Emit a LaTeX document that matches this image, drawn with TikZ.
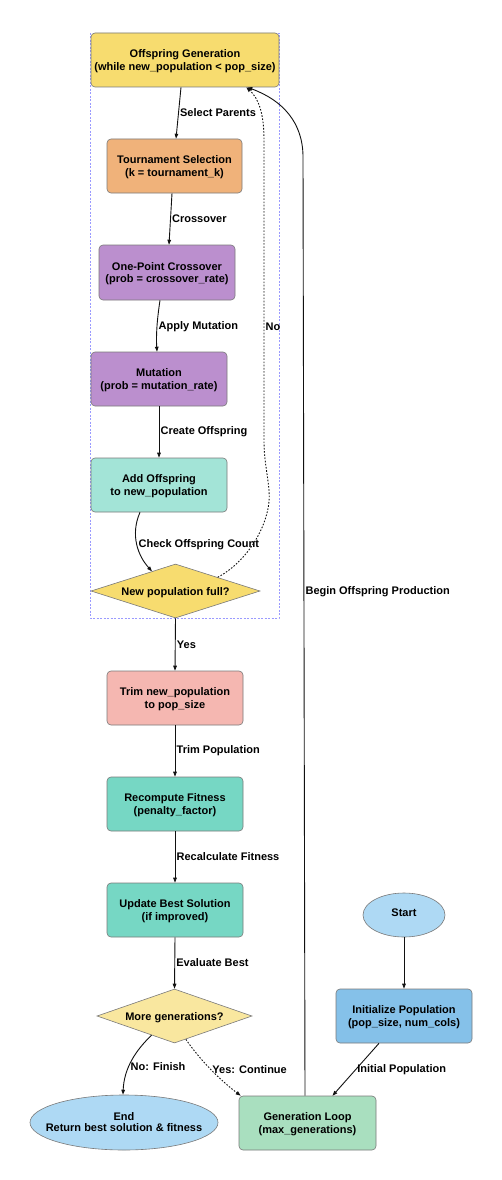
\documentclass[tikz,border=0pt]{standalone}
\usepackage{fontspec}
\setmainfont{Liberation Sans}
\usetikzlibrary{shapes.geometric,arrows.meta}
\definecolor{cYel}{HTML}{F7DC6F}
\definecolor{cYelL}{HTML}{F9E79F}
\definecolor{cOra}{HTML}{F0B27A}
\definecolor{cPur}{HTML}{BB8FCE}
\definecolor{cTeaL}{HTML}{A3E4D7}
\definecolor{cTea}{HTML}{76D7C4}
\definecolor{cPink}{HTML}{F5B7B1}
\definecolor{cSky}{HTML}{AED9F4}
\definecolor{cBlue}{HTML}{85C1E9}
\definecolor{cGrn}{HTML}{A9DFBF}
\definecolor{cClu}{HTML}{9A9AFF}
\definecolor{cBord}{HTML}{7A7A7A}
\definecolor{cEdge}{HTML}{111111}
\newcommand{\tstr}{\rule{0pt}{10.6pt}}
\tikzset{
  base/.style={draw=cBord, line width=0.6pt, inner sep=0pt, align=center, text=black},
  box/.style={base, rectangle, rounded corners=4pt, minimum width=136pt, minimum height=54pt},
  dia/.style={base, diamond, aspect=3},
  ell/.style={base, ellipse},
  edge/.style={draw=cEdge, line width=0.9pt, -{Triangle[length=5pt,width=3.6pt]}},
  dotedge/.style={edge, dash pattern=on 1.6pt off 1.6pt},
  lab/.style={anchor=west, inner sep=1.2pt, text=black, fill=none},
}
\begin{document}
\begin{tikzpicture}[x=1pt,y=-1pt, font=\bfseries\fontsize{11}{12.4}\selectfont]
\useasboundingbox[fill=white] (0,0) rectangle (502,1180);
% cluster
\draw[cClu, line width=0.5pt, dash pattern=on 2pt off 1.5pt] (90,33) rectangle (279,618);
% nodes
\node[box, fill=cYel, minimum width=188pt] (og) at (185,60) {\tstr Offspring Generation\\(while new\_population < pop\_size)};
\node[box, fill=cOra, minimum width=135pt] (ts) at (174.5,166) {\tstr Tournament Selection\\(k = tournament\_k)};
\node[box, fill=cPur, minimum height=55pt] (oc) at (167,272.5) {\tstr One-Point Crossover\\(prob = crossover\_rate)};
\node[box, fill=cPur] (mu) at (159,379) {\tstr Mutation\\(prob = mutation\_rate)};
\node[box, fill=cTeaL] (ad) at (159,485) {\tstr Add Offspring\\to new\_population};
\node[dia, fill=cYel, minimum width=169pt, minimum height=54pt] (np) at (175.5,591) {\makebox[0pt]{\tstr New population full?}};
\node[box, fill=cPink] (tr) at (175,698) {\tstr Trim new\_population\\to pop\_size};
\node[box, fill=cTea] (rf) at (175,804) {\tstr Recompute Fitness\\(penalty\_factor)};
\node[box, fill=cTea] (ub) at (175,910) {\tstr Update Best Solution\\(if improved)};
\node[dia, fill=cYelL, minimum width=155pt, minimum height=54pt] (mg) at (174.5,1016) {\makebox[0pt]{\tstr More generations?}};
\node[ell, fill=cSky, minimum width=188pt, minimum height=55pt] (en) at (124,1122.5) {\makebox[0pt]{\begin{tabular}{@{}c@{}}\tstr End\\[-1.6pt]Return best solution \& fitness\end{tabular}}};
\node[box, fill=cGrn, minimum width=137pt] (gl) at (307.5,1123) {\tstr Generation Loop\\(max\_generations)};
\node[box, fill=cBlue] (ip) at (404,1016) {\tstr Initialize Population\\(pop\_size, num\_cols)};
\node[ell, fill=cSky, minimum width=82pt, minimum height=44pt] (st) at (404,915) {\rule[-5pt]{0pt}{5pt}Start};
% edges
\draw[edge] ([xshift=-4pt]og.south) -- node[lab, midway] {Select Parents} ([xshift=1.5pt]ts.north);
\draw[edge] ([xshift=-2.5pt]ts.south) -- node[lab, midway] {Crossover} ([xshift=2pt]oc.north);
\draw[edge] ([xshift=-7pt]oc.south) .. controls (157,320) and (156,335) .. node[lab, midway] {Apply Mutation} ([xshift=-2pt]mu.north);
\draw[edge] (mu.south) -- node[lab, midway] {Create Offspring} (ad.north);
\draw[edge] ([xshift=-19pt]ad.south) .. controls (130,535) and (138,556) .. node[lab, midway] {Check Offspring Count} (np.140);
\draw[dotedge] (np.18) .. controls (250,560) and (272,520) .. (269,490) .. controls (267,470) and (264,460) .. (264,440) -- node[lab, pos=0.377] {No} (264,140) .. controls (264,112) and (258,98) .. ([xshift=-33pt]og.south east);
\draw[edge] (np.south) -- node[lab, midway] {Yes} (tr.north);
\draw[edge] (tr.south) -- node[lab, midway] {Trim Population} (rf.north);
\draw[edge] (rf.south) -- node[lab, midway] {Recalculate Fitness} (ub.north);
\draw[edge] (ub.south) -- node[lab, midway] {Evaluate Best} (mg.north);
\draw[edge] (mg.220) .. controls (136,1050) and (124,1068) .. node[lab, pos=0.6] {No: Finish} ([xshift=-1pt]en.north);
\draw[dotedge] (mg.296) .. controls (200,1060) and (220,1080) .. node[lab, midway] {Yes: Continue} ([xshift=2pt]gl.north west);
\draw[edge] (st.south) -- (ip.north);
\draw[edge] ([xshift=-25pt]ip.south) -- node[lab, midway] {Initial Population} ([xshift=25pt]gl.north);
\draw[edge] ([xshift=-2.5pt]gl.north) -- node[lab, pos=0.537] {Begin Offspring Production} (303,157) .. controls (303,122) and (282,100) .. ([xshift=-32pt]og.south east);
\end{tikzpicture}
\end{document}
